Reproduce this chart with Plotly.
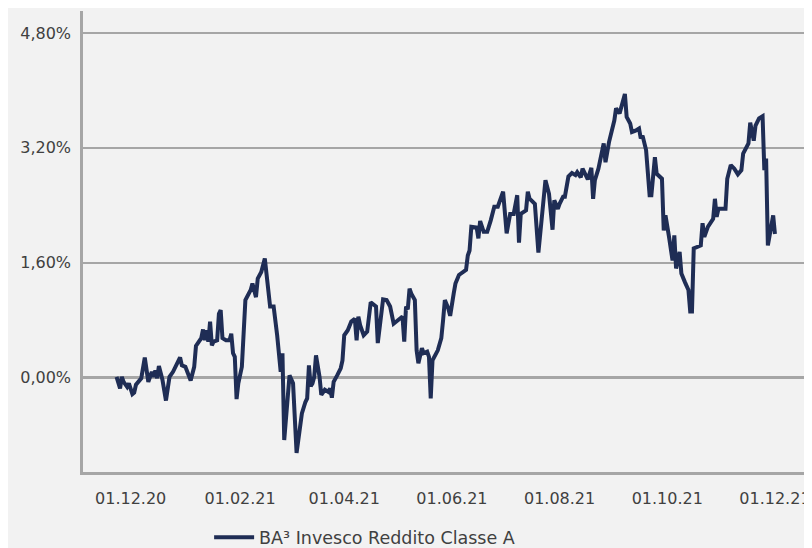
import plotly.graph_objects as go

series_name = "BA³ Invesco Reddito Classe A"

dates = [
    "2020-11-23", "2020-11-25", "2020-11-26", "2020-11-27", "2020-11-29", "2020-11-30",
    "2020-12-02", "2020-12-03", "2020-12-04", "2020-12-06", "2020-12-07", "2020-12-09",
    "2020-12-11", "2020-12-13", "2020-12-14", "2020-12-15", "2020-12-16", "2020-12-17",
    "2020-12-19", "2020-12-21", "2020-12-23", "2020-12-25", "2020-12-29", "2020-12-30",
    "2021-01-01", "2021-01-04", "2021-01-06", "2021-01-07", "2021-01-10", "2021-01-11",
    "2021-01-12", "2021-01-13", "2021-01-14", "2021-01-15", "2021-01-16", "2021-01-17",
    "2021-01-19", "2021-01-20", "2021-01-21", "2021-01-22", "2021-01-24", "2021-01-26",
    "2021-01-27", "2021-01-28", "2021-01-29", "2021-01-30", "2021-01-31", "2021-02-02",
    "2021-02-03", "2021-02-04", "2021-02-07", "2021-02-08", "2021-02-10", "2021-02-11",
    "2021-02-13", "2021-02-15", "2021-02-18", "2021-02-20", "2021-02-22", "2021-02-23",
    "2021-02-24", "2021-02-25", "2021-02-26", "2021-03-01", "2021-03-03", "2021-03-05",
    "2021-03-08", "2021-03-10", "2021-03-11", "2021-03-12", "2021-03-13", "2021-03-14",
    "2021-03-15", "2021-03-16", "2021-03-18", "2021-03-19", "2021-03-21", "2021-03-23",
    "2021-03-24", "2021-03-25", "2021-03-26", "2021-03-28", "2021-03-30", "2021-03-31",
    "2021-04-01", "2021-04-03", "2021-04-05", "2021-04-07", "2021-04-08", "2021-04-09",
    "2021-04-10", "2021-04-12", "2021-04-14", "2021-04-16", "2021-04-19", "2021-04-20",
    "2021-04-23", "2021-04-25", "2021-04-27", "2021-04-29", "2021-05-02", "2021-05-04",
    "2021-05-05", "2021-05-06", "2021-05-07", "2021-05-08", "2021-05-09", "2021-05-11",
    "2021-05-12", "2021-05-13", "2021-05-15", "2021-05-16", "2021-05-18", "2021-05-19",
    "2021-05-20", "2021-05-21", "2021-05-24", "2021-05-26", "2021-05-27", "2021-05-28",
    "2021-05-30", "2021-05-31", "2021-06-02", "2021-06-03", "2021-06-05", "2021-06-07",
    "2021-06-09", "2021-06-10", "2021-06-11", "2021-06-12", "2021-06-15", "2021-06-16",
    "2021-06-17", "2021-06-19", "2021-06-21", "2021-06-23", "2021-06-25", "2021-06-27",
    "2021-06-30", "2021-07-02", "2021-07-04", "2021-07-06", "2021-07-08", "2021-07-09",
    "2021-07-10", "2021-07-13", "2021-07-14", "2021-07-15", "2021-07-18", "2021-07-20",
    "2021-07-22", "2021-07-24", "2021-07-26", "2021-07-28", "2021-07-29", "2021-07-31",
    "2021-08-01", "2021-08-03", "2021-08-04", "2021-08-06", "2021-08-08", "2021-08-10",
    "2021-08-11", "2021-08-13", "2021-08-14", "2021-08-15", "2021-08-17", "2021-08-19",
    "2021-08-20", "2021-08-21", "2021-08-23", "2021-08-26", "2021-08-27", "2021-08-29",
    "2021-08-31", "2021-09-01", "2021-09-02", "2021-09-04", "2021-09-07", "2021-09-08",
    "2021-09-10", "2021-09-11", "2021-09-13", "2021-09-15", "2021-09-16", "2021-09-17",
    "2021-09-19", "2021-09-21", "2021-09-22", "2021-09-24", "2021-09-25", "2021-09-28",
    "2021-09-29", "2021-09-30", "2021-10-02", "2021-10-04", "2021-10-05", "2021-10-06",
    "2021-10-08", "2021-10-09", "2021-10-11", "2021-10-13", "2021-10-14", "2021-10-15",
    "2021-10-16", "2021-10-20", "2021-10-21", "2021-10-22", "2021-10-24", "2021-10-27",
    "2021-10-28", "2021-10-29", "2021-10-30", "2021-11-03", "2021-11-04", "2021-11-06",
    "2021-11-08", "2021-11-10", "2021-11-12", "2021-11-13", "2021-11-16", "2021-11-17",
    "2021-11-19", "2021-11-20", "2021-11-22", "2021-11-24", "2021-11-25", "2021-11-26",
    "2021-11-27", "2021-11-29", "2021-11-30", "2021-12-01",
]

returns_pct = [
    0.01, -0.15, 0.01, -0.06, -0.13, -0.08,
    -0.23, -0.21, -0.10, -0.03, -0.01, 0.28,
    -0.06, 0.08, 0.01, 0.10, -0.01, 0.16,
    -0.03, -0.32, 0.01, 0.08, 0.28, 0.17,
    0.15, -0.04, 0.15, 0.44, 0.55, 0.67,
    0.52, 0.66, 0.50, 0.78, 0.45, 0.50,
    0.52, 0.89, 0.94, 0.55, 0.52, 0.52,
    0.61, 0.34, 0.29, -0.30, -0.08, 0.15,
    0.75, 1.08, 1.22, 1.31, 1.12, 1.38,
    1.47, 1.66, 0.99, 0.99, 0.59, 0.34,
    0.08, 0.34, -0.87, 0.03, -0.08, -1.05,
    -0.50, -0.34, -0.29, 0.17, -0.12, -0.08,
    0.01, 0.31, 0.01, -0.24, -0.17, -0.20,
    -0.15, -0.28, -0.06, 0.03, 0.13, 0.24,
    0.59, 0.66, 0.78, 0.82, 0.52, 0.85,
    0.73, 0.59, 0.64, 1.05, 0.99, 0.48,
    1.09, 1.08, 0.99, 0.75, 0.80, 0.85,
    0.50, 0.99, 0.95, 1.24, 1.17, 1.08,
    0.38, 0.20, 0.41, 0.34, 0.36, 0.29,
    -0.29, 0.24, 0.38, 0.55, 0.80, 1.08,
    0.96, 0.86, 1.17, 1.31, 1.43, 1.46,
    1.50, 1.70, 1.77, 2.10, 2.09, 1.94,
    2.18, 2.03, 2.03, 2.19, 2.38, 2.38,
    2.59, 2.01, 2.28, 2.28, 2.54, 1.88,
    2.28, 2.33, 2.59, 2.49, 2.42, 1.74,
    2.28, 2.75, 2.56, 2.06, 2.47, 2.35,
    2.42, 2.52, 2.52, 2.80, 2.85, 2.82,
    2.86, 2.79, 2.91, 2.86, 2.76, 2.92,
    2.49, 2.75, 2.91, 3.26, 3.00, 3.28,
    3.49, 3.58, 3.75, 3.68, 3.95, 3.63,
    3.54, 3.42, 3.44, 3.47, 3.33, 3.37,
    3.17, 2.54, 2.54, 3.07, 2.84, 2.77,
    2.05, 2.26, 1.96, 1.63, 1.98, 1.52,
    1.75, 1.45, 1.33, 1.22, 0.92, 0.92,
    1.80, 1.84, 2.15, 1.96, 2.10, 2.21,
    2.49, 2.24, 2.35, 2.35, 2.77, 2.96,
    2.91, 2.83, 2.89, 3.12, 3.26, 3.55,
    3.30, 3.51, 3.61, 3.64, 2.89, 3.05,
    1.84, 2.12, 2.26, 2.00,
]

x_tick_dates = ["2020-12-01", "2021-02-01", "2021-04-01", "2021-06-01",
                "2021-08-01", "2021-10-01", "2021-12-01"]
x_tick_labels = ["01.12.20", "01.02.21", "01.04.21", "01.06.21",
                 "01.08.21", "01.10.21", "01.12.21"]
y_tick_values = [0.0, 1.6, 3.2, 4.8]
y_tick_labels = ["0,00%", "1,60%", "3,20%", "4,80%"]

BG = "#f2f2f2"
GRID = "#a6a6a6"
TEXT = "#404040"
LINE = "#1f2d55"
FONT = "DejaVu Sans"

fig = go.Figure()
fig.add_trace(go.Scatter(
    x=dates, y=returns_pct, mode="lines", name=series_name,
    line=dict(color=LINE, width=4),
    hoverinfo="skip",
))

# the page body adds an 8px offset, so the figure is sized to end at the window edge
fig.update_layout(
    width=804, height=540,
    paper_bgcolor=BG, plot_bgcolor=BG,
    margin=dict(l=75, r=0, t=3, b=76, autoexpand=False),
    font=dict(family=FONT, size=16, color=TEXT),
    showlegend=True,
    legend=dict(
        orientation="h", x=0.173, y=-0.142, xanchor="left", yanchor="middle",
        bgcolor="rgba(0,0,0,0)", font=dict(family=FONT, size=17.5, color=TEXT),
        itemwidth=40,
    ),
    xaxis=dict(
        type="date", range=["2020-11-04", "2021-12-22"],
        tickvals=x_tick_dates, ticktext=x_tick_labels,
        showgrid=False, zeroline=False, automargin=False,
        showline=True, linecolor=GRID, linewidth=2.5,
        ticks="", ticklabelstandoff=10,
        tickfont=dict(family=FONT, size=16, color=TEXT),
    ),
    yaxis=dict(
        range=[-1.315, 5.106], automargin=False,
        tickvals=y_tick_values, ticktext=y_tick_labels,
        showgrid=True, gridcolor=GRID, gridwidth=1.5,
        zeroline=True, zerolinecolor=GRID, zerolinewidth=2.5,
        showline=True, linecolor=GRID, linewidth=2.5,
        ticks="", ticklabelstandoff=6,
        tickfont=dict(family=FONT, size=16, color=TEXT),
    ),
)

fig.write_html("out.html")
